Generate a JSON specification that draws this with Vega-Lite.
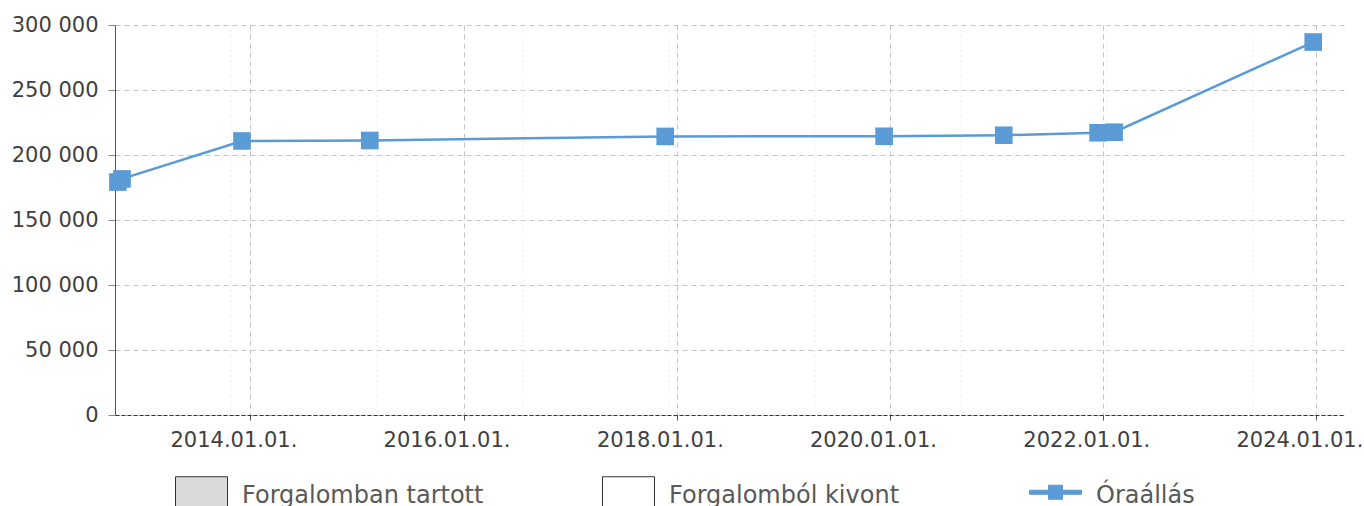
{
  "$schema": "https://vega.github.io/schema/vega-lite/v6.json",
  "width": 1230,
  "height": 390,
  "autosize": {"type": "none"},
  "padding": {"left": 115, "top": 25, "right": 19, "bottom": 91},
  "config": {
    "font": "DejaVu Sans",
    "view": {"stroke": null},
    "locale": {"number": {"decimal": ",", "thousands": " ", "grouping": [3], "currency": ["", ""]}}
  },
  "datasets": {
    "meter": [
      {"date": "2012-10-04", "value": 179200, "series": "Óraállás"},
      {"date": "2012-10-18", "value": 181600, "series": "Óraállás"},
      {"date": "2013-12-03", "value": 210800, "series": "Óraállás"},
      {"date": "2015-02-14", "value": 211150, "series": "Óraállás"},
      {"date": "2017-11-22", "value": 214300, "series": "Óraállás"},
      {"date": "2019-12-12", "value": 214400, "series": "Óraállás"},
      {"date": "2021-01-25", "value": 215200, "series": "Óraállás"},
      {"date": "2021-12-14", "value": 217100, "series": "Óraállás"},
      {"date": "2022-02-07", "value": 217500, "series": "Óraállás"},
      {"date": "2023-12-21", "value": 286900, "series": "Óraállás"}
    ],
    "minor": [
      {"date": "2013-10-26"},
      {"date": "2015-03-10"},
      {"date": "2016-07-23"},
      {"date": "2017-12-05"},
      {"date": "2019-04-19"},
      {"date": "2020-08-31"},
      {"date": "2022-01-13"},
      {"date": "2023-05-29"}
    ]
  },
  "encoding": {
    "x": {
      "field": "date",
      "type": "temporal",
      "scale": {"domain": [{"year": 2012, "month": 9, "date": 24}, {"year": 2024, "month": 4, "date": 8}]},
      "axis": {
        "title": null,
        "format": "%Y.%m.%d.",
        "tickCount": {"interval": "year", "step": 2},
        "labelFontSize": 21,
        "labelColor": "#404040",
        "labelPadding": 9,
        "labelOffset": -17,
        "labelFlush": false,
        "labelOverlap": false,
        "tickSize": 5,
        "tickColor": "#555555",
        "domainColor": "#333333",
        "domainDash": [4, 2],
        "grid": true,
        "gridDash": [5, 4],
        "gridColor": "#c4c4c4"
      }
    }
  },
  "layer": [
    {
      "data": {"name": "minor"},
      "mark": {"type": "rule", "color": "#ececec", "strokeDash": [2, 3], "strokeWidth": 1}
    },
    {
      "data": {"name": "meter"},
      "mark": {"type": "line", "color": "#5b9bd5", "strokeWidth": 2.5},
      "encoding": {
        "y": {
          "field": "value",
          "type": "quantitative",
          "scale": {"domain": [0, 300000], "nice": false},
          "axis": {
            "title": null,
            "values": [0, 50000, 100000, 150000, 200000, 250000, 300000],
            "format": ",d",
            "labelFontSize": 21,
            "labelColor": "#404040",
            "labelPadding": 10,
            "tickSize": 7,
            "tickColor": "#888888",
            "domainColor": "#555555",
            "grid": true,
            "gridDash": [5, 4],
            "gridColor": "#c4c4c4"
          }
        }
      }
    },
    {
      "data": {"name": "meter"},
      "mark": {"type": "square", "size": 310, "opacity": 1, "filled": true},
      "encoding": {
        "y": {"field": "value", "type": "quantitative"},
        "color": {
          "field": "series",
          "type": "nominal",
          "scale": {
            "domain": ["Forgalomban tartott", "Forgalomból kivont", "Óraállás"],
            "range": ["#d9d9d9", "#ffffff", "#5b9bd5"]
          },
          "legend": {
            "title": null,
            "orient": "none",
            "legendX": 60,
            "legendY": 440,
            "direction": "horizontal",
            "columns": 3,
            "gridAlign": "all",
            "columnPadding": 116,
            "padding": 0,
            "symbolSize": 2704,
            "symbolType": "M-1,-0.577H1V0.577H-1Z",
            "symbolOpacity": 1,
            "symbolStrokeWidth": 1,
            "symbolStrokeColor": "#333333",
            "labelFontSize": 24,
            "labelColor": "#595959",
            "labelLimit": 400,
            "labelOffset": 14,
            "encode": {
              "labels": {"update": {"dy": {"value": 4}}},
              "symbols": {
                "update": {
                  "shape": [
                    {"test": "datum.value === 'Óraállás'", "value": "M-1,-0.077H-0.27V-0.27H0.27V-0.077H1V0.077H0.27V0.27H-0.27V0.077H-1Z"},
                    {"value": "M-1,-0.577H1V0.577H-1Z"}
                  ],
                  "stroke": [
                    {"test": "datum.value === 'Óraállás'", "value": "#5b9bd5"},
                    {"value": "#333333"}
                  ]
                }
              }
            }
          }
        }
      }
    }
  ]
}
